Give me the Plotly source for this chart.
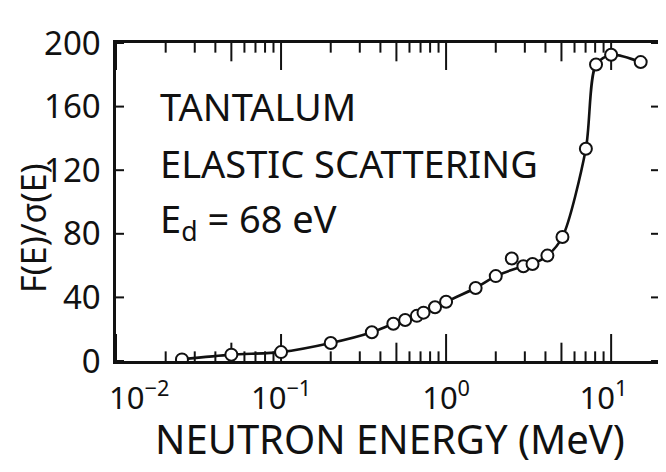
import plotly.graph_objects as go

energy_mev = [0.0251, 0.050, 0.100, 0.200, 0.355, 0.479, 0.565, 0.665, 0.73, 0.857,
              1.0, 1.51, 2.0, 2.50, 2.94, 3.34, 4.11, 5.07, 7.03, 8.1, 10.0, 15.1]
ratio = [1.0, 4.0, 5.6, 11.3, 18.1, 23.4, 25.8, 28.4, 30.4, 33.8,
         37.3, 45.9, 53.4, 64.5, 59.6, 61.0, 66.3, 78.0, 133.5, 186.5, 192.6, 188.0]
# point that the drawn curve does not pass through
curve_excluded = [2.50]

x_major = [0.01, 0.1, 1, 10]
x_major_text = ["\u2003\u200210<sup>−2</sup>", "10<sup>−1</sup>", "10<sup>0</sup>",
                "10<sup>1</sup>\u2002"]
x_medium = [0.05, 0.5, 5]
x_minor = [m * d for d in (0.01, 0.1, 1, 10) for m in (2, 3, 4, 6, 7, 8, 9) if m * d < 19]
y_ticks = [0, 40, 80, 120, 160, 200]

label_lines = ["TANTALUM", "ELASTIC SCATTERING", "E<sub>d</sub> = 68 eV"]
x_title = "NEUTRON ENERGY (MeV)"
y_title = "F(E)/σ(E)"

FONT = "Noto Sans"
BLACK = "#111111"
XR = [-2, 1.29]
YR = [0, 200]
W, H = 666, 472
M = dict(l=108, r=15, t=23, b=119)

curve_x = [e for e in energy_mev if e not in curve_excluded]
curve_y = [r for e, r in zip(energy_mev, ratio) if e not in curve_excluded]

# conversion of tick lengths (pixels) to axis units
y_per_px = (YR[1] - YR[0]) / (H - M["t"] - M["b"])
dec_per_px = (XR[1] - XR[0]) / (W - M["l"] - M["r"])

tick_x, tick_y = [], []
for vals, length in ((x_major, 28), (x_medium, 19), (x_minor, 10)):
    dy = length * y_per_px
    for v in vals:
        tick_x += [v, v, None, v, v, None]
        tick_y += [YR[0], YR[0] + dy, None, YR[1], YR[1] - dy, None]
x_lo, x_hi = 10 ** XR[0], 10 ** XR[1]
x_lo_in = 10 ** (XR[0] + 8 * dec_per_px)
x_hi_in = 10 ** (XR[1] - 8 * dec_per_px)
for v in y_ticks:
    tick_x += [x_lo, x_lo_in, None, x_hi, x_hi_in, None]
    tick_y += [v, v, None, v, v, None]

fig = go.Figure()
fig.add_trace(go.Scatter(x=tick_x, y=tick_y, mode="lines", connectgaps=False,
                         line=dict(color=BLACK, width=2), hoverinfo="skip",
                         showlegend=False))
fig.add_trace(go.Scatter(x=curve_x, y=curve_y, mode="lines",
                         line=dict(color=BLACK, width=2.6, shape="spline", smoothing=0.8),
                         hoverinfo="skip", showlegend=False))
fig.add_trace(go.Scatter(x=energy_mev, y=ratio, mode="markers",
                         marker=dict(symbol="circle", size=12, color="white",
                                     line=dict(color=BLACK, width=2)),
                         showlegend=False))

fig.update_layout(
    width=W, height=H,
    margin=M,
    paper_bgcolor="white", plot_bgcolor="white",
    font=dict(family=FONT, color=BLACK),
    xaxis=dict(type="log", range=XR, showgrid=False, zeroline=False,
               showline=True, linecolor=BLACK, linewidth=2.5, mirror=True,
               ticks="outside", ticklen=8, tickcolor="rgba(0,0,0,0)",
               tickvals=x_major, ticktext=x_major_text,
               tickfont=dict(size=31, family=FONT, color=BLACK),
               ticklabeloverflow="allow", fixedrange=True),
    yaxis=dict(range=YR, showgrid=False, zeroline=False,
               showline=True, linecolor=BLACK, linewidth=2.5, mirror=True,
               ticks="outside", ticklen=6, tickcolor="rgba(0,0,0,0)",
               tickvals=y_ticks,
               tickfont=dict(size=33, family=FONT, color=BLACK),
               ticklabeloverflow="allow", fixedrange=True),
)

ys = [0.803, 0.624, 0.442]
for txt, yy in zip(label_lines, ys):
    fig.add_annotation(text=txt, xref="paper", yref="paper", x=0.077, y=yy,
                       xanchor="left", yanchor="middle", showarrow=False,
                       font=dict(size=38, family=FONT, color=BLACK))

fig.add_annotation(text=x_title, xref="paper", yref="paper", x=0.505, y=-0.245,
                   xanchor="center", yanchor="middle", showarrow=False,
                   font=dict(size=40, family=FONT, color=BLACK))
fig.add_annotation(text=y_title, xref="paper", yref="paper", x=-0.153, y=0.418,
                   xanchor="center", yanchor="middle", showarrow=False, textangle=-90,
                   font=dict(size=34, family=FONT, color=BLACK))

fig.write_html("out.html")
